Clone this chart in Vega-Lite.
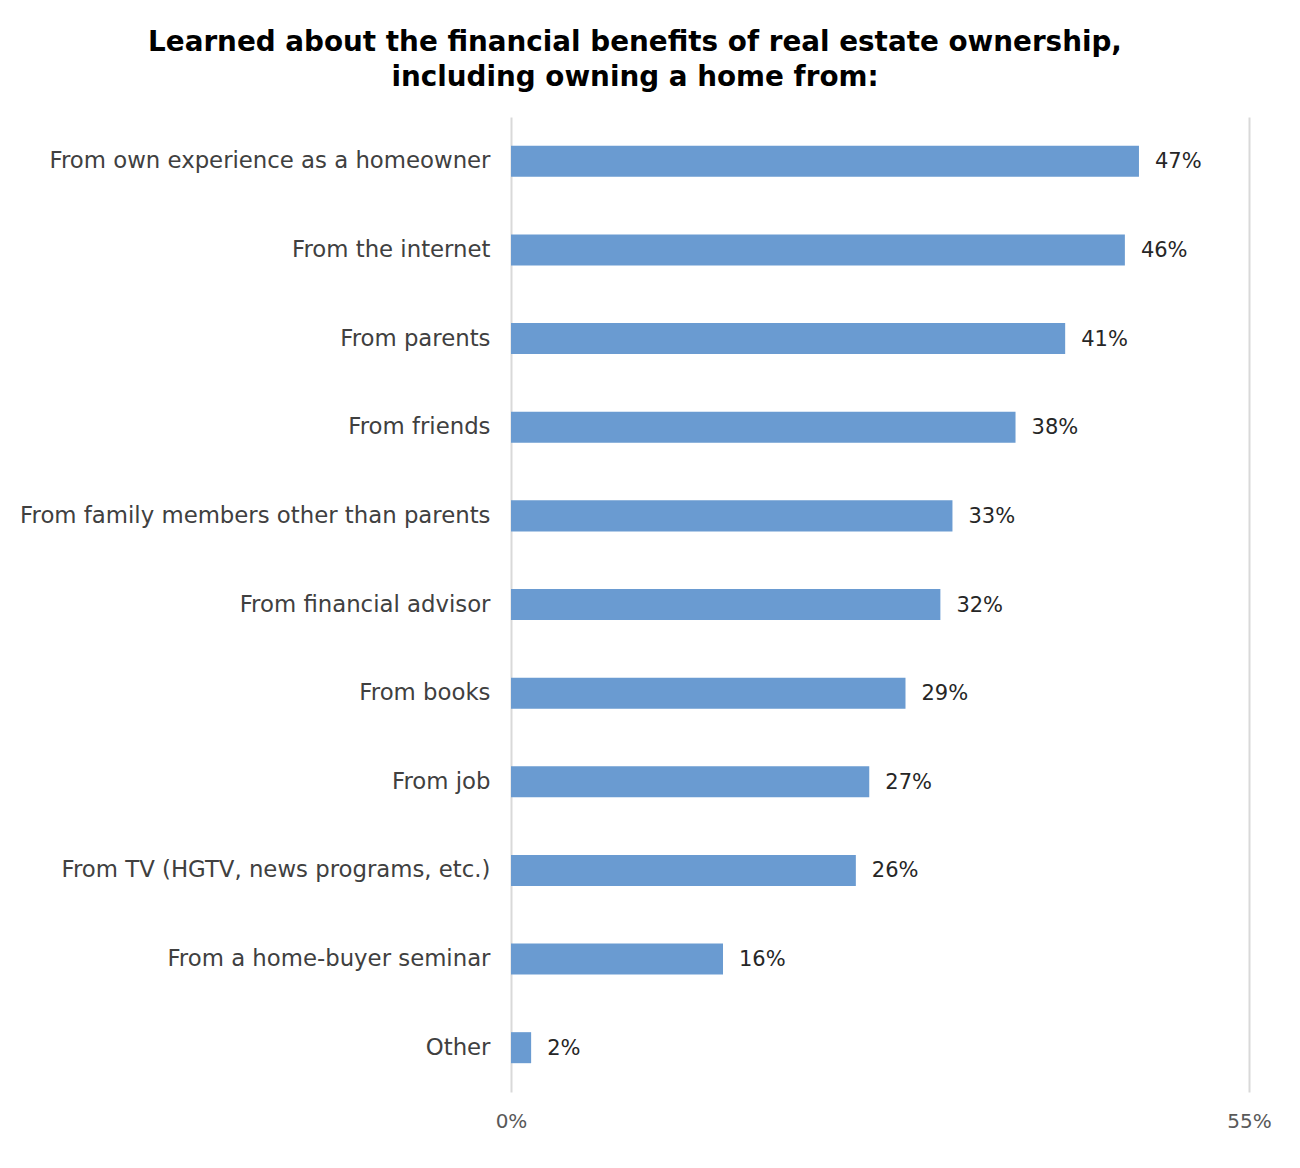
{
  "$schema": "https://vega.github.io/schema/vega-lite/v6.json",
  "width": 738,
  "height": 975,
  "autosize": {"type": "none"},
  "padding": {"left": 511, "top": 117, "right": 51, "bottom": 76},
  "background": "white",
  "title": {
    "text": ["Learned about the financial benefits of real estate ownership,", "including owning a home from:"],
    "font": "DejaVu Sans",
    "fontSize": 27.8,
    "fontWeight": "bold",
    "color": "#000000",
    "anchor": "middle",
    "frame": "group",
    "dx": -245,
    "offset": 25,
    "lineHeight": 35
  },
  "data": {
    "values": [
      {"source": "From own experience as a homeowner", "value": 46.8, "label": "47%"},
      {"source": "From the internet", "value": 45.75, "label": "46%"},
      {"source": "From parents", "value": 41.3, "label": "41%"},
      {"source": "From friends", "value": 37.6, "label": "38%"},
      {"source": "From family members other than parents", "value": 32.9, "label": "33%"},
      {"source": "From financial advisor", "value": 32.0, "label": "32%"},
      {"source": "From books", "value": 29.4, "label": "29%"},
      {"source": "From job", "value": 26.7, "label": "27%"},
      {"source": "From TV (HGTV, news programs, etc.)", "value": 25.7, "label": "26%"},
      {"source": "From a home-buyer seminar", "value": 15.8, "label": "16%"},
      {"source": "Other", "value": 1.5, "label": "2%"}
    ]
  },
  "encoding": {
    "y": {
      "field": "source",
      "type": "nominal",
      "sort": null,
      "scale": {"paddingInner": 0.65, "paddingOuter": 0.325},
      "axis": {
        "title": null,
        "domain": false,
        "ticks": false,
        "labelPadding": 21,
        "labelFont": "DejaVu Sans",
        "labelFontSize": 22.8,
        "labelColor": "#404040",
        "labelLimit": 600
      }
    },
    "x": {
      "field": "value",
      "type": "quantitative",
      "scale": {"domain": [0, 55], "nice": false},
      "axis": {
        "title": null,
        "values": [0, 55],
        "labelExpr": "datum.value + '%'",
        "labelFlush": false,
        "labelAlign": "center",
        "domain": false,
        "ticks": false,
        "grid": true,
        "gridColor": "#d9d9d9",
        "gridWidth": 2,
        "labelPadding": 19,
        "labelFont": "DejaVu Sans",
        "labelFontSize": 20,
        "labelColor": "#595959"
      }
    }
  },
  "layer": [
    {"mark": {"type": "bar", "color": "#6A9BD1"}},
    {
      "mark": {"type": "text", "align": "left", "dx": 16, "dy": 1, "font": "DejaVu Sans", "fontSize": 21, "color": "#262626"},
      "encoding": {"text": {"field": "label"}}
    }
  ],
  "config": {"view": {"stroke": null}}
}
